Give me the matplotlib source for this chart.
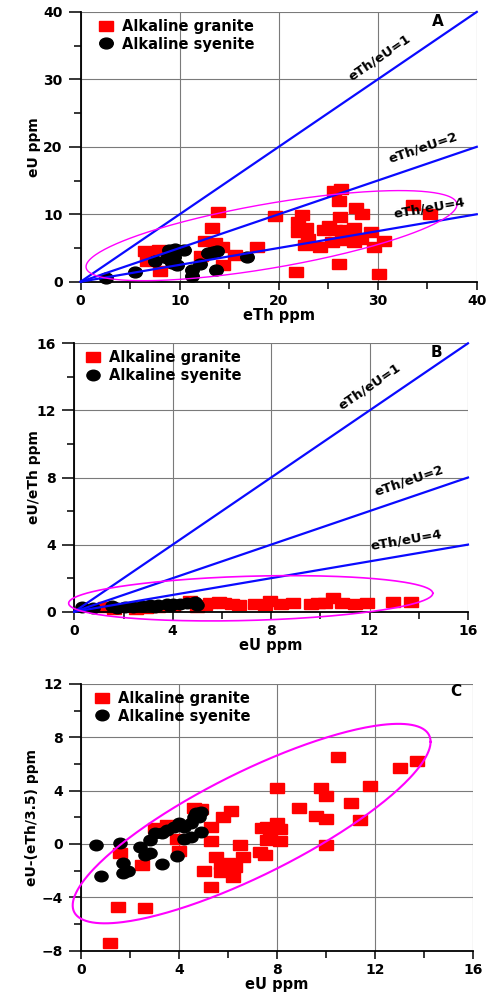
import numpy as np
import matplotlib
matplotlib.use("Agg")
import matplotlib.pyplot as plt
from matplotlib.markers import MarkerStyle
from matplotlib.transforms import Affine2D
from matplotlib.ticker import MultipleLocator

plt.rcParams['font.family'] = ['DejaVu Sans']
plt.rcParams['font.weight'] = 'bold'

# --- A: eU vs eTh ---
granite_eth = [6.5, 7.9, 6.7, 8.0, 13.9, 13.3, 12.6, 13.6, 14.3, 12.2, 14.4, 15.6, 17.8,
               19.6, 21.7, 21.9, 22.4, 21.9, 22.8, 23.0, 22.7, 24.2, 24.6, 25.1, 25.6,
               26.3, 26.1, 26.2, 25.7, 25.4, 26.4, 26.1, 26.8, 27.6, 27.8, 28.4, 27.6,
               28.3, 29.3, 29.6, 30.6, 30.1, 33.6, 35.3, 27.1]
granite_eu = [4.5, 4.7, 3.0, 1.6, 10.4, 7.9, 6.1, 5.7, 5.1, 3.8, 2.5, 4.0, 5.2,
              9.8, 1.5, 8.9, 9.9, 7.4, 7.9, 6.4, 5.4, 5.1, 7.7, 8.2, 13.4,
              13.7, 11.9, 9.6, 7.6, 5.9, 6.2, 2.6, 7.7, 7.9, 10.9, 10.1, 5.9,
              6.4, 7.4, 5.2, 6.1, 1.1, 11.3, 10.0, 7.2]
syenite_eth = [2.6, 5.5, 7.5, 8.9, 9.5, 10.4, 8.7, 9.4, 9.2, 9.7, 11.2, 11.2, 12.1,
               12.9, 13.8, 13.7, 16.8, 9.1, 13.4]
syenite_eu = [0.5, 1.5, 3.0, 4.7, 4.8, 4.7, 3.5, 3.7, 2.7, 2.5, 1.7, 0.8, 2.6,
              4.2, 4.6, 1.7, 3.6, 4.2, 4.4]

# --- B: eU/eTh vs eU ---
granite_b_eu = [1.25, 1.6, 2.5, 2.9, 3.4, 4.0, 4.7, 5.0, 5.3, 5.5, 5.9, 6.1, 6.4, 6.7,
                7.35, 7.75, 7.96, 8.4, 8.9, 9.6, 9.9, 10.2, 10.5, 10.9, 11.4, 11.9,
                12.97, 13.7]
granite_b_ratio = [0.3, 0.15, 0.14, 0.25, 0.3, 0.35, 0.65, 0.3, 0.4, 0.5, 0.55, 0.54, 0.45,
                   0.4, 0.44, 0.4, 0.66, 0.44, 0.5, 0.44, 0.5, 0.54, 0.8, 0.5, 0.44, 0.5,
                   0.56, 0.6]
syenite_b_eu = [0.3, 0.77, 1.52, 1.72, 2.06, 2.4, 2.74, 3.08, 3.28, 3.42, 3.75, 3.9,
                4.03, 4.3, 4.57, 4.9, 4.97]
syenite_b_ratio = [0.26, 0.24, 0.34, 0.2, 0.26, 0.3, 0.34, 0.38, 0.3, 0.42, 0.44, 0.34,
                   0.46, 0.44, 0.5, 0.56, 0.4]

# --- C: eU-(eTh/3.5) vs eU ---
granite_c_eu = [1.18, 1.5, 2.6, 1.6, 2.5, 3.0, 3.5, 4.6, 4.9, 3.9, 4.0, 5.3, 5.3, 5.8,
                6.1, 5.0, 5.3, 5.5, 5.7, 5.7, 6.0, 6.2, 6.3, 6.6, 6.5, 7.3, 7.5, 7.4,
                7.6, 7.6, 8.0, 8.1, 8.1, 8.0, 8.9, 9.6, 9.8, 10.0, 10.0, 10.0, 10.5,
                11.0, 11.4, 11.8, 13.0, 13.7, 7.7]
granite_c_diff = [-7.4, -4.7, -4.8, -0.7, -1.6, 1.2, 1.4, 2.7, 2.6, 0.4, -0.5, 1.3, 0.2,
                  2.0, 2.5, -2.0, -3.2, -1.0, -1.5, -2.1, -1.4, -2.5, -1.7, -1.0, -0.1,
                  -0.6, -0.8, 1.2, 1.3, 0.3, 1.6, 1.1, 0.2, 4.2, 2.7, 2.1, 4.2, 3.6, 1.9,
                  -0.1, 6.5, 3.05, 1.8, 4.35, 5.7, 6.2, 0.8]
syenite_c_eu = [0.6, 1.6, 0.8, 1.7, 1.9, 1.7, 2.4, 2.6, 2.8, 2.8, 3.0, 3.3, 3.3, 3.5,
                3.8, 4.0, 3.9, 4.2, 4.5, 4.5, 4.6, 4.7, 4.9, 4.9, 4.8, 4.2]
syenite_c_diff = [-0.1, 0.05, -2.4, -2.2, -2.0, -1.45, -0.25, -0.8, -0.65, 0.3, 0.85,
                  -1.5, 0.8, 1.05, 1.3, 1.55, -0.9, 0.4, 0.55, 1.55, 2.05, 2.3, 2.4, 0.9,
                  2.0, 1.3]

# eTh/eU ratio reference lines
ratios = [1, 2, 4]

# ellipses: centre x, centre y, half x-range, half y-range, correlation
ellipse_a = (19.27, 6.83, 18.73, 6.68, 0.69)
ellipse_b = (7.17, 0.80, 7.40, 1.35, 0.22)
ellipse_c = (6.96, 1.53, 7.30, 7.48, 0.82)

RED = '#ff0000'
BLUE = '#0a0aff'
MAGENTA = '#ff00ff'

square = MarkerStyle('s', transform=Affine2D().scale(1.3, 1.0))
circle = MarkerStyle('o', transform=Affine2D().scale(1.25, 1.0))


def draw_ellipse(ax, params, lw):
    cx, cy, rx, ry, rho = params
    t = np.linspace(0, 2 * np.pi, 300)
    x = cx + rx * np.cos(t)
    y = cy + ry * (rho * np.cos(t) + np.sqrt(1 - rho ** 2) * np.sin(t))
    ax.plot(x, y, color=MAGENTA, lw=lw, clip_on=False, zorder=4)


def style_axes(ax, xmax, xmajor, ymin, ymax, ymajor):
    ax.set_xlim(0, xmax)
    ax.set_ylim(ymin, ymax)
    ax.xaxis.set_major_locator(MultipleLocator(xmajor))
    ax.xaxis.set_minor_locator(MultipleLocator(xmajor / 2))
    ax.yaxis.set_major_locator(MultipleLocator(ymajor))
    ax.yaxis.set_minor_locator(MultipleLocator(ymajor / 2))
    ax.grid(True, which='major', color='#7a7a7a', lw=0.8)
    ax.set_axisbelow(True)
    for side in ['top', 'right']:
        ax.spines[side].set_visible(False)
    for side in ['left', 'bottom']:
        ax.spines[side].set_linewidth(1.3)
    ax.tick_params(axis='y', which='major', length=9, width=1.1, labelsize=10, pad=4)
    ax.tick_params(axis='y', which='minor', length=5, width=1.1)
    ax.tick_params(axis='x', which='major', length=6, width=1.1, labelsize=10, pad=3)
    ax.tick_params(axis='x', which='minor', length=5, width=1.1)
    for lab in ax.get_xticklabels() + ax.get_yticklabels():
        lab.set_fontweight('bold')


def draw_ratio_lines(ax, xmax, label_pos):
    x = np.array([0, xmax])
    for r, (lx, ly) in zip(ratios, label_pos):
        ax.plot(x, x / r, color=BLUE, lw=1.6, zorder=3, clip_on=False)
        ang = np.degrees(np.arctan(1.0 / r))
        ax.text(lx, ly, f'eTh/eU={r}', rotation=ang, transform_rotates_text=True,
                rotation_mode='anchor', ha='center', va='center',
                fontsize=9.5, fontweight='bold', zorder=5)


def add_legend(ax, x0, y0):
    ax.legend(loc='upper left', bbox_to_anchor=(x0, y0), frameon=False,
              prop={'weight': 'bold', 'size': 10.5}, handlelength=1.0,
              handletextpad=0.6, labelspacing=0.2, borderaxespad=0, borderpad=0)


fig = plt.figure(figsize=(4.86, 9.94), dpi=100)

# panel A
ax1 = fig.add_axes([0.1660, 0.7166, 0.8150, 0.2714])
ax1.plot(granite_eth, granite_eu, ls='none', marker=square, ms=7.8, color=RED,
         mec=RED, label='Alkaline granite', zorder=2, clip_on=False)
ax1.plot(syenite_eth, syenite_eu, ls='none', marker=circle, ms=7.8, color='black',
         label='Alkaline syenite', zorder=2, clip_on=False)
draw_ratio_lines(ax1, 40, [(30.2, 33.3), (34.6, 19.9), (35.2, 10.9)])
draw_ellipse(ax1, ellipse_a, 1.0)
style_axes(ax1, 40, 10, 0, 40, 10)
ax1.text(36.1, 38.6, 'A', fontsize=11, fontweight='bold', ha='center', va='center')
ax1.set_xlabel('eTh ppm', fontsize=10.5, fontweight='bold', labelpad=0)
ax1.set_ylabel('eU ppm', fontsize=10, fontweight='bold')
ax1.yaxis.set_label_coords(-0.10, 0.5)
add_legend(ax1, 0.045, 0.975)

# panel B
ax2 = fig.add_axes([0.1529, 0.3846, 0.8100, 0.2700])
ax2.plot(granite_b_eu, granite_b_ratio, ls='none', marker=square, ms=7.4, color=RED,
         mec=RED, label='Alkaline granite', zorder=2, clip_on=False)
ax2.plot(syenite_b_eu, syenite_b_ratio, ls='none', marker=circle, ms=7.6, color='black',
         label='Alkaline syenite', zorder=3, clip_on=False)
draw_ratio_lines(ax2, 16, [(12.0, 13.4), (13.6, 7.8), (13.5, 4.3)])
draw_ellipse(ax2, ellipse_b, 1.2)
style_axes(ax2, 16, 4, 0, 16, 4)
ax2.text(14.7, 15.45, 'B', fontsize=11, fontweight='bold', ha='center', va='center')
ax2.set_xlabel('eU ppm', fontsize=10.5, fontweight='bold', labelpad=0)
ax2.set_ylabel('eU/eTh ppm', fontsize=10, fontweight='bold')
ax2.yaxis.set_label_coords(-0.085, 0.5)
add_legend(ax2, 0.03, 0.975)

# panel C
ax3 = fig.add_axes([0.1667, 0.0436, 0.8070, 0.2683])
ax3.plot(granite_c_eu, granite_c_diff, ls='none', marker=square, ms=7.4, color=RED,
         mec=RED, label='Alkaline granite', zorder=2, clip_on=False)
ax3.plot(syenite_c_eu, syenite_c_diff, ls='none', marker=circle, ms=7.6, color='black',
         label='Alkaline syenite', zorder=3, clip_on=False)
draw_ellipse(ax3, ellipse_c, 1.5)
style_axes(ax3, 16, 4, -8, 12, 4)
ax3.text(15.3, 11.45, 'C', fontsize=11, fontweight='bold', ha='center', va='center')
ax3.set_xlabel('eU ppm', fontsize=10.5, fontweight='bold', labelpad=0)
ax3.set_ylabel('eU-(eTh/3.5) ppm', fontsize=10, fontweight='bold')
ax3.yaxis.set_label_coords(-0.107, 0.5)
add_legend(ax3, 0.035, 0.975)

fig.savefig('out.png', dpi=100)
